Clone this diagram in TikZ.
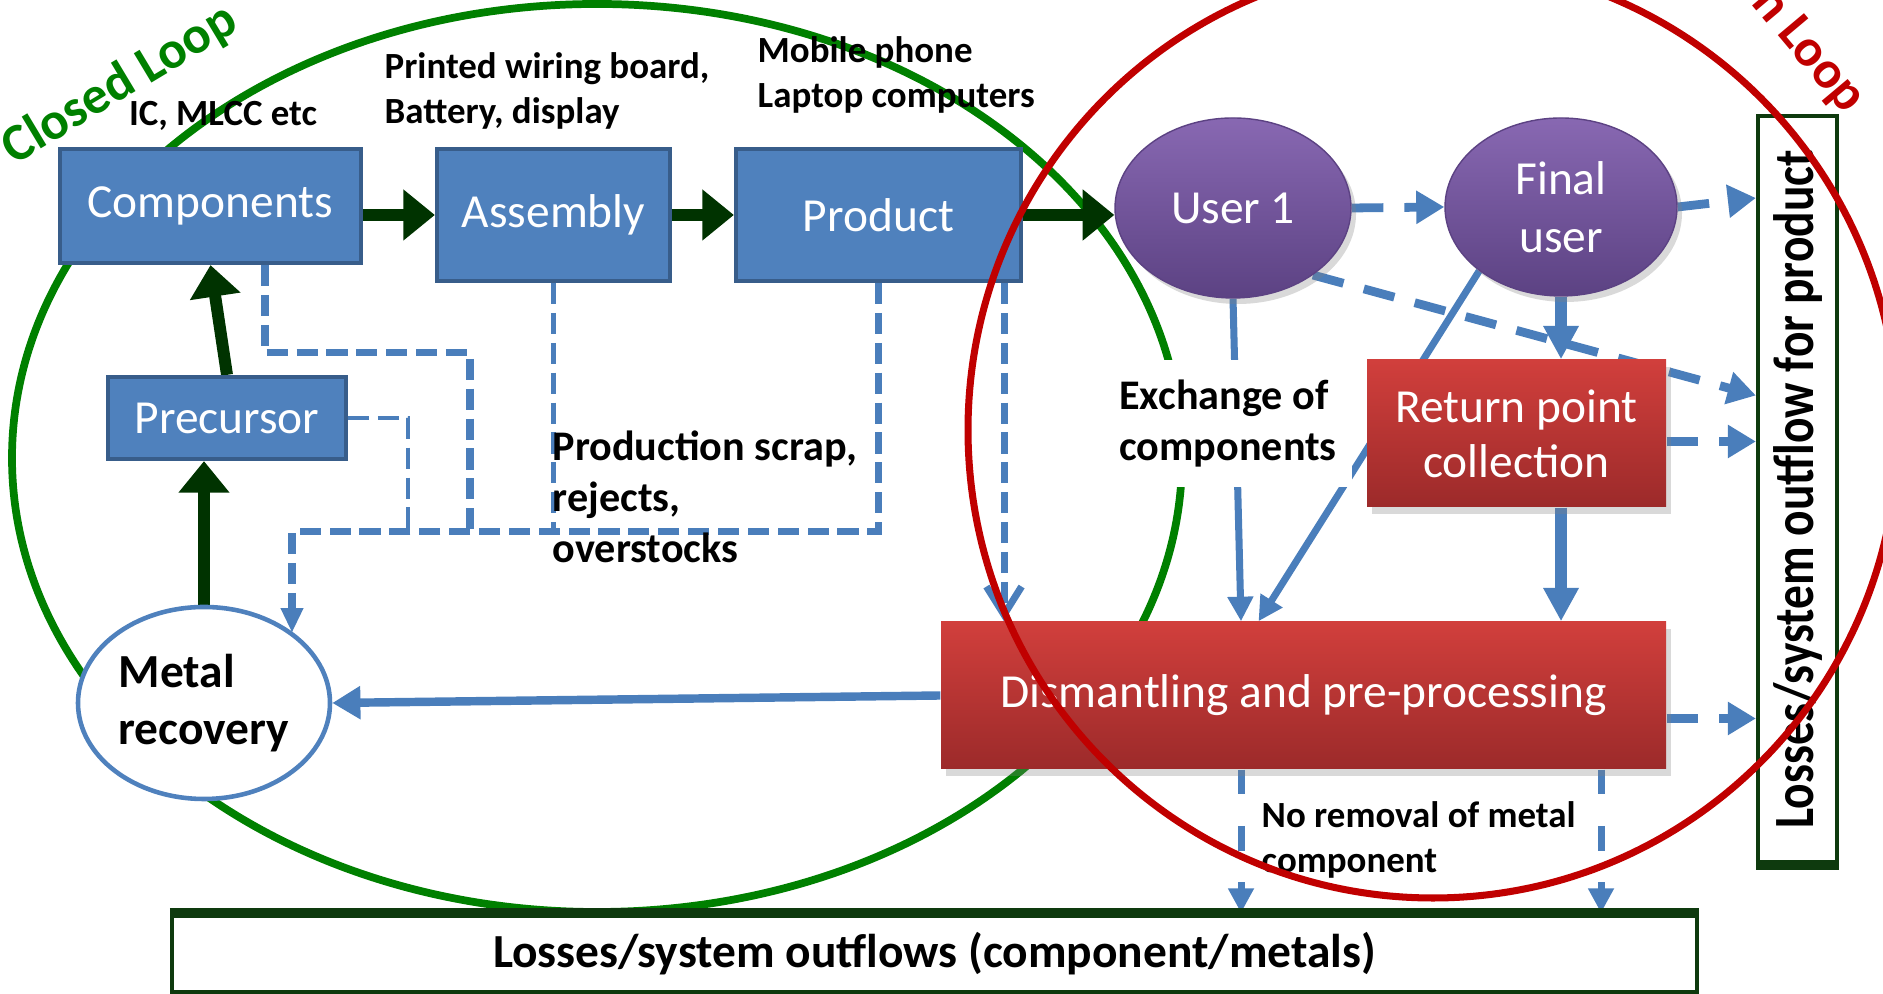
\documentclass[tikz,border=0pt]{standalone}
\usepackage{fontspec}
\setmainfont{Carlito}
\usetikzlibrary{arrows.meta,shapes.geometric,shadows,calc,backgrounds}

\definecolor{boxblue}{HTML}{4F81BD}
\definecolor{boxedge}{HTML}{385D8A}
\definecolor{flowblue}{HTML}{4A7EBB}
\definecolor{darkflow}{HTML}{003300}
\definecolor{loopgreen}{HTML}{008000}
\definecolor{loopred}{HTML}{C00000}
\definecolor{purpletop}{HTML}{8868B2}
\definecolor{purplebot}{HTML}{5C4283}
\definecolor{redtop}{HTML}{D13F3C}
\definecolor{redbot}{HTML}{9C2A2A}
\definecolor{outgreen}{HTML}{0E3A0E}

\tikzset{
  stage/.style={draw=boxedge, line width=1.2pt, fill=boxblue, text=white, inner sep=0pt,
    font=\fontsize{13.5}{16}\selectfont},
  user/.style={ellipse, top color=purpletop, bottom color=purplebot, draw=purplebot,
    text=white, align=center, inner sep=0pt, font=\fontsize{13.5}{16.4}\selectfont,
    drop shadow={opacity=0.3, shadow xshift=0.5mm, shadow yshift=-0.6mm}},
  treat/.style={top color=redtop, bottom color=redbot, text=white, align=center, inner sep=0pt,
    font=\fontsize{13.5}{15.7}\selectfont,
    drop shadow={opacity=0.3, shadow xshift=0.5mm, shadow yshift=-0.7mm}},
  recovery/.style={ellipse, draw=boxblue, line width=1.3pt, fill=white, align=left, inner sep=0pt,
    font=\bfseries\fontsize{13.5}{16}\selectfont},
  loss/.style={draw=outgreen, line width=1.2pt, fill=white, inner sep=0pt,
    font=\bfseries\fontsize{13.5}{16}\selectfont},
  note/.style={align=left, inner sep=0pt, font=\bfseries\fontsize{10.5}{13}\selectfont},
  bignote/.style={align=left, inner sep=0pt, font=\bfseries\fontsize{12}{14.5}\selectfont},
  looptext/.style={inner sep=0pt, font=\bfseries\fontsize{15}{18}\selectfont},
  mainflow/.style={darkflow, line width=3.4pt, -{Triangle[length=9pt,width=14pt]}},
  scrap/.style={flowblue, line width=2pt, dash pattern=on 6pt off 2.5pt},
  scrapthin/.style={flowblue, line width=1.4pt, dash pattern=on 6pt off 2.5pt},
  outflow/.style={flowblue, line width=2.5pt, dash pattern=on 9pt off 6pt,
    -{Triangle[length=8pt,width=9pt]}},
  drop/.style={flowblue, line width=2pt, dash pattern=on 7pt off 9pt,
    -{Triangle[length=7pt,width=7pt]}},
  flow/.style={flowblue, line width=2pt, -{Triangle[length=7pt,width=7pt]}},
  flowthick/.style={flowblue, line width=3.5pt, -{Triangle[length=9.5pt,width=9.5pt]}}
}

\begin{document}
\begin{tikzpicture}
\useasboundingbox (0,0) rectangle (18.83,9.94);
\clip (0,0) rectangle (18.83,9.94);

\node[stage, minimum width=3.01cm, minimum height=1.14cm] (comp) at (2.105,7.88) {Components};
\node[stage, minimum width=2.33cm, minimum height=1.32cm] (assem) at (5.535,7.79) {Assembly};
\node[stage, minimum width=2.85cm, minimum height=1.32cm] (prod) at (8.785,7.79) {Product};
\node[stage, minimum width=2.38cm, minimum height=0.82cm] (prec) at (2.27,5.76) {Precursor};
\node[recovery, minimum width=2.52cm, minimum height=1.92cm] (metal) at (2.04,2.91) {Metal\\recovery};
\node[user, minimum width=2.36cm, minimum height=1.80cm] (user1) at (12.33,7.86) {User 1};
\node[user, minimum width=2.32cm, minimum height=1.78cm] (final) at (15.61,7.87) {Final\\user};
\node[treat, minimum width=2.99cm, minimum height=1.47cm] (ret) at (15.165,5.605) {Return point\\collection};
\node[treat, minimum width=7.25cm, minimum height=1.47cm] (dism) at (13.035,2.985) {Dismantling and pre-processing};
\node[loss, minimum width=15.25cm, minimum height=0.77cm] (lossbot) at (9.345,0.405) {Losses/system outflows (component/metals)};
\node[loss, minimum width=7.47cm, minimum height=0.79cm, rotate=90] (lossright) at (17.975,5.045) {\scalebox{1}[1.2]{Losses/system outflow for product}};
\draw[outgreen, line width=3pt] (lossbot.north west) -- (lossbot.north east);
\draw[outgreen, line width=3pt] (lossright.north west) -- (lossright.south west);

\node[note] (ic) at (2.23,8.78) {IC, MLCC etc};
\node[note, anchor=west] (pwb) at (3.84,9.03) {Printed wiring board,\\Battery, display};
\node[note, anchor=west] (mob) at (7.57,9.19) {Mobile phone\\Laptop computers};
\node[bignote, anchor=west] (scrapnote) at (5.52,4.97) {Production scrap,\\rejects,\\overstocks};
\node[bignote, fill=white, minimum width=2.48cm, minimum height=1.27cm] (exch) at (12.28,5.70) {Exchange of\\components};
\node[note, anchor=west, font=\bfseries\fontsize{10.5}{12.6}\selectfont] (norem) at (12.61,1.54) {No removal of metal\\component};
\node[looptext, text=loopgreen, rotate=31] (closed) at (1.20,9.09) {Closed Loop};
\node[looptext, text=loopred, rotate=-50, anchor=base east] (open) at (18.45,8.78) {Open Loop};

\coordinate (sc1) at (2.92,4.62);
\coordinate (jc) at (4.70,6.41);
\coordinate (jp) at (4.08,4.62);
\coordinate (pd) at ($(prod.south)+(1.255,0)$);
\coordinate (dl) at ($(dism.south)+(-0.625,0)$);
\coordinate (dr) at ($(dism.south)+(2.975,0)$);
\coordinate (du) at ($(dism.north)+(-0.625,0)$);
\coordinate (df) at ($(dism.north)+(-0.45,0)$);

\begin{pgfonlayer}{background}
\draw[loopgreen, line width=2.2pt] (5.97,5.36) ellipse (5.85 and 4.54);

\draw[mainflow] (comp.east |- assem.west) -- (assem.west);
\draw[mainflow] (assem.east) -- (prod.west);
\draw[mainflow] (prod.east) -- (user1.west |- prod.east);
\draw[mainflow] (prec.north) -- (comp.south);
\draw[mainflow] (metal.north) -- (metal.north |- prec.south);

\draw[scrap] ([xshift=5.45mm]comp.south) |- (jc) -- (jc |- sc1);
\draw[scrapthin] (prec.east) -| (jp);
\draw[scrapthin] (assem.south) -- (assem.south |- sc1);
\draw[scrap, -{Triangle[length=7pt,width=6pt]}] (prod.south) |- (sc1) -- (sc1 |- metal.38);
\draw[scrap, -{Straight Barb[length=8pt,width=10pt]}] (pd) -- (pd |- dism.north);

\draw[outflow] (user1.east) -- (final.west);
\draw[outflow] (final.east) -- ($(final.east -| lossright.north)+(0,0.09)$);
\draw[outflow] (user1.-40) -- ($(lossright.north)+(0,0.94)$);
\draw[outflow] ($(ret.east)+(0,-0.08)$) -- ($(ret.east -| lossright.north)+(0,-0.08)$);
\draw[outflow] ($(dism.east)+(0,-0.23)$) -- ($(dism.east -| lossright.north)+(0,-0.23)$);
\draw[drop] (dl) -- (dl |- lossbot.north);
\draw[drop] (dr) -- (dr |- lossbot.north);

\draw[flow] (user1.south) -- (du);
\draw[flow] (final.218) -- (df);
\draw[flowthick] (final.south) -- (final.south |- ret.north);
\draw[flowthick] (final.south |- ret.south) -- (final.south |- dism.north);
\draw[flowblue, line width=2.4pt, -{Triangle[length=8pt,width=9pt]}] (dism.west) -- (metal.east);
\end{pgfonlayer}

\draw[loopred, line width=2pt] (14.33,5.64) ellipse (4.65 and 4.68);
\end{tikzpicture}
\end{document}
